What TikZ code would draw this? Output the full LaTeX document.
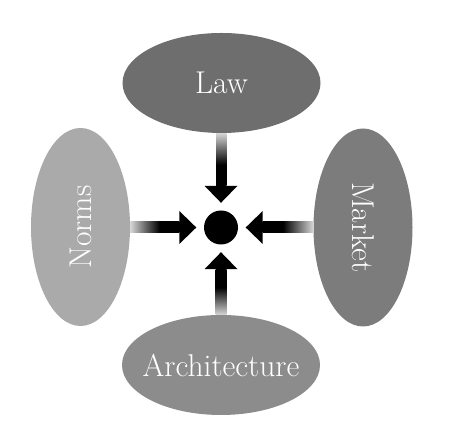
\documentclass[tikz,border=0pt]{standalone}
\usepackage{graphicx}
\usetikzlibrary{calc,shapes.geometric}
\definecolor{lawgray}{HTML}{6E6E6E}
\definecolor{archgray}{HTML}{8C8C8C}
\definecolor{normsgray}{HTML}{AAAAAA}
\definecolor{marketgray}{HTML}{7C7C7C}
\definecolor{shaftlight}{HTML}{D6D6D6}
\pgfdeclareverticalshading{shaftdown}{100bp}{color(0bp)=(black); color(45bp)=(black); color(75bp)=(shaftlight); color(100bp)=(shaftlight)}
\pgfdeclareverticalshading{shaftup}{100bp}{color(0bp)=(shaftlight); color(25bp)=(shaftlight); color(55bp)=(black); color(100bp)=(black)}
\pgfdeclarehorizontalshading{shaftright}{100bp}{color(0bp)=(shaftlight); color(25bp)=(shaftlight); color(55bp)=(black); color(100bp)=(black)}
\pgfdeclarehorizontalshading{shaftleft}{100bp}{color(0bp)=(black); color(45bp)=(black); color(75bp)=(shaftlight); color(100bp)=(shaftlight)}
\begin{document}
\begin{tikzpicture}[x=1pt,y=1pt,
  oval/.style={ellipse, inner sep=0pt, text=white, font=\fontsize{31.5}{34}\selectfont},
  wideoval/.style={oval, minimum width=198pt, minimum height=100pt},
  talloval/.style={oval, minimum width=99pt, minimum height=198pt},
  hubdot/.style={circle, fill=black, minimum size=34pt, inner sep=0pt},
  headfill/.style={fill=black}]
\useasboundingbox (0,0) rectangle (450,443);
\node[hubdot] (hub) at (221,215.5) {};
\node[wideoval, fill=lawgray] (law) at (221.5,360) {\makebox[0pt]{Law}};
\node[wideoval, fill=archgray] (arch) at (221,78) {\makebox[0pt]{Architecture}};
\node[talloval, fill=normsgray] (norms) at (80.5,216) {\rotatebox{90}{\makebox[0pt]{Norms}}\hspace{5pt}};
\node[talloval, fill=marketgray] (market) at (363,215.5) {\rotatebox{-90}{\makebox[0pt]{Market}}};
% Law -> hub
\shade[shading=shaftdown] ($(law.south)+(-5.5,0)$) rectangle ($(hub.north)+(5.5,24.5)$);
\fill[headfill] ($(hub.north)+(-16.5,24.5)$) -- ($(hub.north)+(16.5,24.5)$) -- ($(hub.north)+(0,7.5)$) -- cycle;
% Architecture -> hub
\shade[shading=shaftup] ($(arch.north)+(-5.5,0)$) rectangle ($(hub.south)+(5.5,-24.5)$);
\fill[headfill] ($(hub.south)+(-16.5,-24.5)$) -- ($(hub.south)+(16.5,-24.5)$) -- ($(hub.south)+(0,-7.5)$) -- cycle;
% Norms -> hub
\shade[shading=shaftright] ($(norms.east |- hub.west)+(0,-5.5)$) rectangle ($(hub.west)+(-24.5,5.5)$);
\fill[headfill] ($(hub.west)+(-24.5,-16.5)$) -- ($(hub.west)+(-24.5,16.5)$) -- ($(hub.west)+(-7.5,0)$) -- cycle;
% Market -> hub
\shade[shading=shaftleft] ($(market.west |- hub.east)+(0,-5.5)$) rectangle ($(hub.east)+(24.5,5.5)$);
\fill[headfill] ($(hub.east)+(24.5,-16.5)$) -- ($(hub.east)+(24.5,16.5)$) -- ($(hub.east)+(7.5,0)$) -- cycle;
\end{tikzpicture}
\end{document}
